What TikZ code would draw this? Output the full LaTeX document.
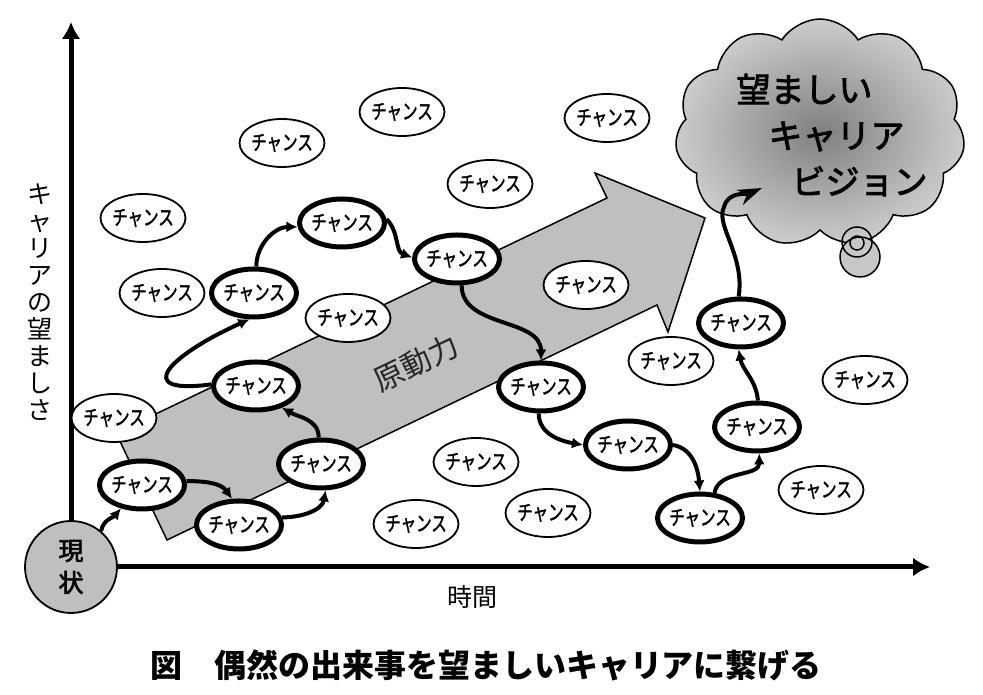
\documentclass[tikz,border=0pt]{standalone}
\usepackage{fontspec}
\setmainfont{Noto Sans CJK JP}
\newfontfamily\chancefont{Noto Sans CJK JP}[FakeStretch=0.74, FakeBold=1.5]
\newfontfamily\visionfont{Noto Sans CJK JP}[FakeBold=2.5]
\usetikzlibrary{arrows.meta}
\usetikzlibrary{shapes.geometric}
\usetikzlibrary{shapes.symbols}
\tikzset{>={Latex[width=11pt,length=11pt]}}
\tikzset{
  chance/.style={ellipse, draw, line width=1.8pt, fill=white, minimum width=85pt, minimum height=48pt, inner xsep=-10pt, inner ysep=0pt, font=\chancefont\fontsize{21}{22}\selectfont},
  hit/.style={chance, line width=5pt},
  link/.style={draw, line width=4pt, ->},
  axisline/.style={draw, line width=5pt, -{Latex[width=19pt,length=17pt]}}
}

\begin{document}
\begin{tikzpicture}[x=1pt,y=1pt]
\useasboundingbox (0,0) rectangle (983,695);
\path [draw, fill=black!25, line width=1.5pt] (116,262) -- (607,497) -- (595,522) -- (705,477) -- (668,363) -- (657,390) -- (167,155) -- cycle;
\node (drive) [rotate=25.5, font=\fontsize{30}{30}\selectfont, text=black!85] at (416,332) {原動力};

\node (vision) [cloud, cloud puffs=11, cloud puff arc=115, draw, line width=1.5pt, shading=radial, inner color=black!50, outer color=black!20, minimum width=290pt, minimum height=228pt] at (820,562) {};
\node (visiontext) [align=left, font=\visionfont\fontsize{34}{46}\selectfont] at (832,560) {望ましい\\\hspace*{32pt}キャリア\\\hspace*{55pt}ビジョン};
\node (bubble) [circle, draw, line width=1.5pt, fill=black!22, minimum size=40pt] at (860,438) {};
\node (ring) [circle, draw, line width=1.5pt, minimum size=30pt] at (857,453) {};
\node (dot) [circle, draw, line width=1.5pt, minimum size=14pt] at (857,452) {};

\node (now) [circle, draw, line width=1.8pt, fill=black!25, minimum size=92pt, align=center, font=\visionfont\fontsize{25}{32}\selectfont] at (71,128) {現\\状};
\coordinate (ytop) at (71,673);
\coordinate (xend) at (930,128);
\path [axisline] (now) -- (ytop);
\path [axisline] (now) -- (xend);

\node (ylabel) [align=center, font=\fontsize{25}{27}\selectfont] at (40,393) {キ\\ャ\\リ\\ア\\の\\望\\ま\\し\\さ};
\node (xlabel) [font=\fontsize{25}{25}\selectfont] at (472,98) {時間};
\node (caption) [font=\fontsize{32}{32}\selectfont\bfseries] at (486,30) {図　偶然の出来事を望ましいキャリアに繋げる};

\node (c1) [chance] at (402,583) {チャンス};
\node (c2) [chance] at (282,552) {チャンス};
\node (c3) [chance] at (607,577) {チャンス};
\node (c4) [chance] at (490,511) {チャンス};
\node (c5) [chance] at (143,477) {チャンス};
\node (c6) [chance] at (162,402) {チャンス};
\node (c7) [chance] at (348,377) {チャンス};
\node (c8) [chance] at (586,410) {チャンス};
\node (c9) [chance] at (114,277) {チャンス};
\node (c10) [chance] at (671,334) {チャンス};
\node (c11) [chance] at (865,315) {チャンス};
\node (c12) [chance] at (476,233) {チャンス};
\node (c13) [chance] at (416,171) {チャンス};
\node (c14) [chance] at (548,182) {チャンス};
\node (c15) [chance] at (821,205) {チャンス};

\node (h1) [hit] at (142,210) {チャンス};
\node (h2) [hit] at (239,170) {チャンス};
\node (h3) [hit] at (321,231) {チャンス};
\node (h4) [hit] at (256,309) {チャンス};
\node (h5) [hit] at (254,402) {チャンス};
\node (h6) [hit] at (342,472) {チャンス};
\node (h7) [hit] at (457,436) {チャンス};
\node (h8) [hit] at (541,308) {チャンス};
\node (h9) [hit] at (628,250) {チャンス};
\node (h10) [hit] at (700,177) {チャンス};
\node (h11) [hit] at (757,268) {チャンス};
\node (h12) [hit] at (741,372) {チャンス};

\path [link] (now.50) to[out=80,in=230] (h1.228);
\path [link] (h1.5) to[out=0,in=125] (h2.105);
\path [link] (h2.10) to[out=0,in=-100] (h3.-80);
\path [link] (h3.95) to[out=90,in=-30] (h4.-40);
\path [link] (h4.178) .. controls (130,300) and (170,340) .. (h5.-100);
\path [link] (h5.85) to[out=90,in=180] (h6.185);
\path [link] (h6.5) to[out=-45,in=160] (h7.178);
\path [link] (h7.-80) to[out=-90,in=90] (h8.north);
\path [link] (h8.-95) to[out=-90,in=170] (h9.west);
\path [link] (h9.east) to[out=-10,in=95] (h10.north);
\path [link] (h10.60) to[out=80,in=-90] (h11.-85);
\path [link] (h11.88) to[out=95,in=-80] (h12.-95);
\coordinate (goal) at (762,507);
\path [draw, line width=4pt, -{Stealth[length=24pt,width=16pt]}] (h12.95) .. controls (745,440) and (715,470) .. (724,488) to[out=75,in=203] (goal);
\end{tikzpicture}
\end{document}
